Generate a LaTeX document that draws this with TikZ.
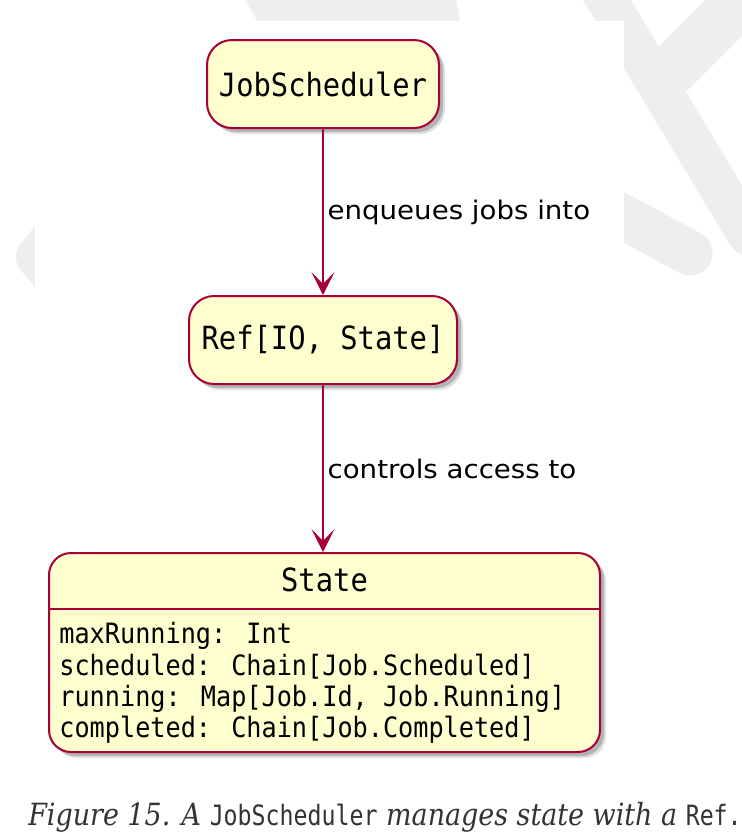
\documentclass[tikz,border=0pt]{standalone}
\usepackage{fontspec}
\usetikzlibrary{arrows.meta,shadows}

\newfontfamily\boxfont[FakeStretch=0.9]{DejaVu Sans Mono}
\newfontfamily\labelfont[FakeStretch=1.08]{DejaVu Sans}
\newfontfamily\capserif[FakeStretch=0.88]{DejaVu Serif}
\newfontfamily\capmono[FakeStretch=0.83]{DejaVu Sans Mono}

\definecolor{umlfill}{HTML}{FEFECE}
\definecolor{umlline}{HTML}{A80036}
\definecolor{wmark}{HTML}{EEEEEE}
\definecolor{captext}{HTML}{333333}

\tikzset{
  statebox/.style={draw=umlline, fill=umlfill, line width=1pt, rounded corners=12.5pt,
    drop shadow={shadow xshift=3pt, shadow yshift=-3pt, fill=black, opacity=0.12},
    drop shadow={shadow xshift=2pt, shadow yshift=-2pt, fill=black, opacity=0.2},
    font=\boxfont\fontsize{16}{19}\selectfont, inner sep=0pt},
  flow/.style={draw=umlline, line width=0.6pt,
    -{Stealth[length=11.5pt,width=11.5pt,inset=6pt]}},
  flowlabel/.style={font=\labelfont\fontsize{12.8}{15}\selectfont, anchor=west, inner sep=2pt}
}

\begin{document}
\begin{tikzpicture}[x=0.5pt,y=-0.5pt]
    \useasboundingbox (0,0) rectangle (742,836);
    % watermark behind the page
    \fill[wmark] (244,-2) -- (456,-2) -- (460,22) -- (258,22) -- cycle;
    \fill[wmark, rounded corners=8pt] (60,195) -- (10,257) -- (60,318) -- cycle;
    \draw[wmark, line width=20.5pt, line cap=round] (595,-20) -- (748,235);
    \draw[wmark, line width=25.8pt] (657.5,84) -- (780,-38.5);
    \draw[wmark, line width=22.5pt, line cap=round] (560,183) -- (690,253);
    \fill[white] (35,21) rectangle (624,836);

    % states
    \node[statebox, minimum width=116pt, minimum height=44pt] (scheduler) at (323,84) {JobScheduler};
    \node[statebox, minimum width=134pt, minimum height=44pt] (ref) at (323,340) {Ref[IO, State]};
    \node[statebox, rounded corners=11pt, minimum width=275.5pt, minimum height=99.5pt] (state) at (324.5,652.5) {};
    \node[font=\boxfont\fontsize{16}{19}\selectfont] (statename) at ([yshift=-14pt]state.north) {State};
    \draw[umlline, line width=1pt] ([yshift=-28.5pt]state.north west) -- ([yshift=-28.5pt]state.north east);
    \node[anchor=west, align=left, inner sep=0pt, font=\boxfont\fontsize{14}{15.6}\selectfont] (fields)
        at ([xshift=5.5pt, yshift=-65.5pt]state.north west)
        {maxRunning: Int\\scheduled: Chain[Job.Scheduled]\\running: Map[Job.Id, Job.Running]\\completed: Chain[Job.Completed]};

    % transitions
    \draw[flow] (scheduler.south) -- node[flowlabel] {enqueues jobs into} (ref.north);
    \draw[flow] (ref.south) -- node[flowlabel] {controls access to} (ref.south |- state.north);

    \node[anchor=base, text=captext, inner sep=0pt] (caption) at (385,825)
        {\capserif\fontsize{15.3}{18}\selectfont\itshape Figure 15. A
         {\capmono\upshape\fontsize{14}{18}\selectfont JobScheduler}
         manages state with a
         {\capmono\upshape\fontsize{14}{18}\selectfont Ref.}};
\end{tikzpicture}
\end{document}
